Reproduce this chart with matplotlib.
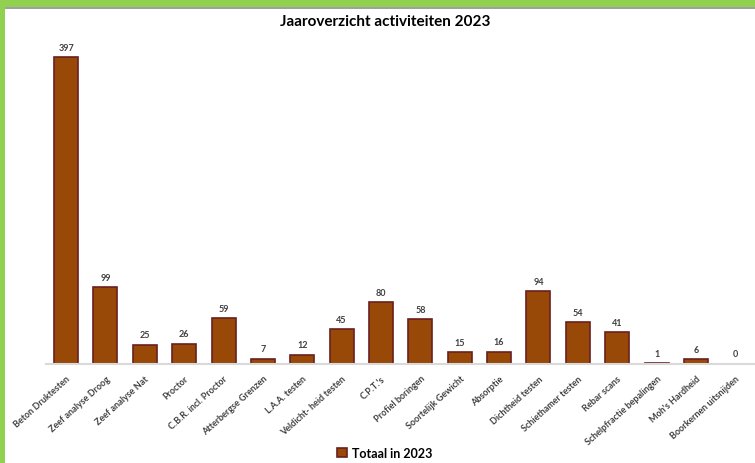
"""Jaaroverzicht activiteiten 2023 bar chart."""

import matplotlib

matplotlib.use("Agg")

import matplotlib.pyplot as plt
from matplotlib.patches import Rectangle

categories = [
    "Beton Druktesten",
    "Zeef analyse Droog",
    "Zeef analyse Nat",
    "Proctor",
    "C.B.R. incl. Proctor",
    "Atterbergse Grenzen",
    "L.A.A. testen",
    "Veldicht- heid testen",
    "C.P.T.'s",
    "Profiel boringen",
    "Soortelijk Gewicht",
    "Absorptie",
    "Dichtheid testen",
    "Schiethamer testen",
    "Rebar scans",
    "Schelpfractie bepalingen",
    "Moh's Hardheid",
    "Boorkernen uitsnijden",
]
totals = [397, 99, 25, 26, 59, 7, 12, 45, 80, 58, 15, 16, 94, 54, 41, 1, 6, 0]

plt.rcParams["font.family"] = ["Lato", "DejaVu Sans"]

W, H = 755, 464
fig = plt.figure(figsize=(W / 100, H / 100), dpi=100)

# green frame (top and left edges of the screenshot)
fig.patches.append(Rectangle((0, 1 - 8 / H), 1, 8 / H, transform=fig.transFigure,
                             facecolor="#92D050", edgecolor="none", zorder=0))
fig.patches.append(Rectangle((0, 0), 5 / W, 1, transform=fig.transFigure,
                             facecolor="#92D050", edgecolor="none", zorder=0))
fig.patches.append(Rectangle((5 / W, 1 - 9.5 / H), 1, 1.5 / H, transform=fig.transFigure,
                             facecolor="#A0A0A0", edgecolor="none", zorder=0))

left = 46.4 / W
bottom = 1 - 365 / H
top = 1 - 40.3 / H
ax = fig.add_axes([left, bottom, 1 - left, top - bottom])

positions = list(range(len(categories)))
bars = ax.bar(positions, totals, width=0.61, color="#984807",
              edgecolor="#6B1F1F", linewidth=1.2, label="Totaal in 2023", zorder=3)
for bar, v in zip(bars, totals):
    if v == 0:
        bar.set_visible(False)

for x, v in zip(positions, totals):
    ax.annotate(str(v), (x, v), xytext=(0, 4), textcoords="offset points",
                ha="center", va="bottom", fontsize=6.5, fontweight="bold",
                color="#404040")

ax.set_xlim(-0.5, len(categories) - 0.5)
ax.set_ylim(0, 420)
ax.set_yticks([])
ax.set_xticks(positions)
ax.set_xticklabels(categories, rotation=42, ha="right", rotation_mode="anchor",
                   fontsize=6.5, fontweight="bold", color="#404040")
ax.tick_params(axis="x", length=0, pad=7)
for side in ("top", "right", "left"):
    ax.spines[side].set_visible(False)
ax.spines["bottom"].set_color("#D9D9D9")
ax.spines["bottom"].set_linewidth(1.5)
ax.spines["bottom"].set_zorder(4)

fig.text(0.51, 1 - 22 / H, "Jaaroverzicht activiteiten 2023", ha="center",
         va="center", fontsize=11, fontweight="bold", color="#000000")

fig.legend(handles=[bars], labels=["Totaal in 2023"], loc="center",
           bbox_to_anchor=(0.51, 1 - 454 / H), frameon=False,
           prop={"weight": "bold", "size": 9}, handlelength=0.8, handleheight=0.8,
           handletextpad=0.4)

fig.savefig("out.png", dpi=100)
